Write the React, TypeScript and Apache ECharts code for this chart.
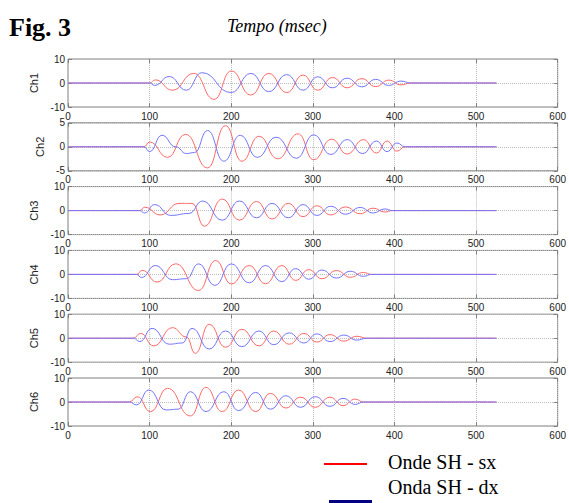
import React, { useEffect, useRef } from "react";
import * as echarts from "echarts";

// ---------- data ----------
const channels = ["Ch1", "Ch2", "Ch3", "Ch4", "Ch5", "Ch6"];
const yLimits = [10, 5, 10, 10, 10, 10];
const xMin = 0;
const xMax = 600;
const xStep = 100;
const seriesNames = ["Onde SH - sx", "Onda SH - dx"];

type P = [number, number];

const ch1Red: P[] = [[0, 0], [100, 0], [107, 1.3], [128, -3], [154, 4], [179, -6.8], [200, 5], [224, -5], [246, 4], [268, -4], [288, 3.3], [306, -3], [324, 2.3], [342, -2], [360, 1.8], [377, -1.5], [393, 1.2], [408, -0.8], [420, 0], [525, 0]];
const ch1Blue: P[] = [[0, 0], [100, 0], [106, -1], [124, 2.7], [145, -3], [164, 4.3], [200, -4], [224, 4], [246, -3.6], [268, 3.5], [288, -3], [306, 2.6], [324, -2], [342, 2], [360, -1.6], [377, 1.5], [393, -1], [408, 0.8], [420, 0], [525, 0]];

const ch2Red: P[] = [[0, 0], [93, 0], [100, 1], [122, -2.2], [144, 2.6], [171, -4.4], [193, 4.4], [213, -3], [234, 2.2], [257, -2.5], [282, 2.7], [301, -2.7], [323, 1.6], [342, -1.5], [362, 1.5], [378, -1.3], [391, 1.2], [403, -0.9], [413, 0], [525, 0]];
const ch2Blue: P[] = [[0, 0], [93, 0], [100, -1], [115, 2.4], [132, 0], [145, -1.4], [155, -1.2], [171, 3.4], [191, -3], [211, 2.4], [232, -2.2], [255, 2], [280, -2.4], [301, 2.5], [322, -1.6], [342, 1.5], [361, -1.4], [378, 1.2], [391, -1], [403, 0.8], [413, 0], [525, 0]];

const ch3Red: P[] = [[0, 0], [88, 0], [94, 1.4], [113, -1.8], [136, 3], [152, 3], [167, -6.5], [189, 4.8], [210, -4], [231, 3.8], [250, -3.5], [270, 3], [288, -2.5], [305, 2], [322, -1.8], [340, 1.5], [358, -1.3], [374, 1], [388, -0.6], [398, 0], [525, 0]];
const ch3Blue: P[] = [[0, 0], [88, 0], [94, -1], [106, 2.5], [126, -2], [148, -1.2], [165, 4], [189, -4], [210, 4], [231, -3], [250, 3], [270, -3], [288, 2.5], [305, -2], [322, 1.8], [340, -1.5], [358, 1.3], [374, -1], [388, 0.7], [398, 0], [525, 0]];

const ch4Red: P[] = [[0, 0], [84, 0], [91, 1.7], [109, -3.2], [132, 4.4], [160, -6.7], [181, 5.8], [200, -4], [222, 3.7], [242, -3.9], [262, 3.7], [279, -2.5], [295, 2], [311, -1.8], [329, 1.6], [346, -1.2], [362, 0.8], [372, 0], [525, 0]];
const ch4Blue: P[] = [[0, 0], [84, 0], [90, -1.3], [107, 3.7], [128, -2.2], [145, -1.8], [160, 4.4], [180, -4.6], [200, 4.4], [222, -3.5], [242, 3.7], [262, -3], [279, 2.4], [295, -2], [311, 1.8], [329, -1.5], [346, 1.3], [362, -0.8], [372, 0], [525, 0]];

const ch5Red: P[] = [[0, 0], [80, 0], [89, 2], [105, -3.2], [128, 4.4], [145, 0.5], [156, -6.3], [173, 5.8], [193, -3.8], [213, 3.7], [234, -3.2], [252, 3], [271, -2.5], [289, 2], [305, -1.6], [321, 1.5], [338, -1.2], [354, 0.8], [366, 0], [525, 0]];
const ch5Blue: P[] = [[0, 0], [80, 0], [88, -1.4], [103, 4.1], [124, -2.5], [140, -2], [152, 4.1], [173, -4.5], [193, 3], [213, -3.5], [234, 3], [252, -2.7], [271, 2.2], [289, -2], [305, 1.8], [321, -1.4], [338, 1.3], [354, -0.8], [366, 0], [525, 0]];

const ch6Red: P[] = [[0, 0], [75, 0], [85, 2.2], [101, -4], [122, 5.7], [150, -5.8], [169, 6.1], [189, -4], [209, 5], [230, -4], [248, 3.6], [267, -2.5], [285, 2], [303, -2.2], [321, 2], [337, -1.5], [352, 1.2], [362, 0], [525, 0]];
const ch6Blue: P[] = [[0, 0], [75, 0], [84, -1.2], [99, 5], [120, -3.3], [135, -3], [150, 4.3], [169, -4], [191, 4.3], [209, -3.6], [230, 4], [248, -3], [267, 2.6], [285, -2.2], [303, 2.2], [321, -1.8], [337, 1.5], [352, -1], [362, 0], [525, 0]];

const redData = [ch1Red, ch2Red, ch3Red, ch4Red, ch5Red, ch6Red];
const blueData = [ch1Blue, ch2Blue, ch3Blue, ch4Blue, ch5Blue, ch6Blue];

// ---------- styling ----------
const RED = "#ff6868";
const BLUE = "#7474ff";
const FRAME = "#808080";
const GRID_LEFT = 68;
const GRID_WIDTH = 491;
const GRID_TOP0 = 59;
const GRID_STEP = 63.8;
const GRID_H = 48;
const SANS = "Liberation Sans, Arial, sans-serif";
const SERIF = "Liberation Serif, Times New Roman, serif";

export default function App() {
  const ref = useRef<HTMLDivElement>(null);

  useEffect(() => {
    if (!ref.current) return;
    const chart = echarts.init(ref.current, undefined, { renderer: "svg" });

    const grid: any[] = [];
    const xAxis: any[] = [];
    const yAxis: any[] = [];
    const series: any[] = [];
    const tick = { inside: true, length: 4, lineStyle: { color: FRAME, width: 1 } };
    const dotted = { show: true, lineStyle: { type: "dotted", color: "#bcbcbc", width: 1 } };
    const noLine = { show: false, onZero: false };

    channels.forEach((name, i) => {
      const L = yLimits[i];
      grid.push({
        left: GRID_LEFT,
        width: GRID_WIDTH,
        top: GRID_TOP0 + i * GRID_STEP,
        height: GRID_H,
        show: true,
        borderColor: FRAME,
        borderWidth: 1,
        backgroundColor: "transparent",
      });
      xAxis.push({
        type: "value",
        gridIndex: i,
        min: xMin,
        max: xMax,
        interval: xStep,
        position: "bottom",
        axisLine: noLine,
        axisTick: tick,
        axisLabel: { fontSize: 10, color: "#222", margin: 4, fontFamily: SANS },
        splitLine: dotted,
      });
      xAxis.push({
        type: "value",
        gridIndex: i,
        min: xMin,
        max: xMax,
        interval: xStep,
        position: "top",
        axisLine: noLine,
        axisTick: tick,
        axisLabel: { show: false },
        splitLine: { show: false },
      });
      yAxis.push({
        type: "value",
        gridIndex: i,
        min: -L,
        max: L,
        interval: L,
        position: "left",
        axisLine: noLine,
        axisTick: tick,
        axisLabel: { fontSize: 10, color: "#222", margin: 3, fontFamily: SANS },
        splitLine: dotted,
        name,
        nameLocation: "middle",
        nameGap: 17,
        nameRotate: 90,
        nameTextStyle: { fontSize: 11, color: "#222", fontFamily: SANS },
      });
      yAxis.push({
        type: "value",
        gridIndex: i,
        min: -L,
        max: L,
        interval: L,
        position: "right",
        axisLine: noLine,
        axisTick: tick,
        axisLabel: { show: false },
        splitLine: { show: false },
      });
      series.push({
        name: seriesNames[0],
        type: "line",
        xAxisIndex: 2 * i,
        yAxisIndex: 2 * i,
        data: redData[i],
        showSymbol: false,
        smooth: 0.5,
        smoothMonotone: "x",
        lineStyle: { color: RED, width: 1 },
        itemStyle: { color: RED },
      });
      series.push({
        name: seriesNames[1],
        type: "line",
        xAxisIndex: 2 * i,
        yAxisIndex: 2 * i,
        data: blueData[i],
        showSymbol: false,
        smooth: 0.5,
        smoothMonotone: "x",
        lineStyle: { color: BLUE, width: 1 },
        itemStyle: { color: BLUE },
      });
    });

    chart.setOption({
      animation: false,
      backgroundColor: "#ffffff",
      grid,
      xAxis,
      yAxis,
      series,
      graphic: [
        {
          type: "text",
          left: 9,
          top: 14,
          style: { text: "Fig. 3", font: `bold 26px ${SERIF}`, fill: "#000" },
        },
        {
          type: "text",
          left: 227,
          top: 17,
          style: { text: "Tempo (msec)", font: `italic 18px ${SERIF}`, fill: "#000" },
        },
        {
          type: "line",
          shape: { x1: 324, y1: 464, x2: 367, y2: 464 },
          style: { stroke: "#ff0000", lineWidth: 2 },
        },
        {
          type: "text",
          left: 388,
          top: 452,
          style: { text: seriesNames[0], font: `20px ${SERIF}`, fill: "#000" },
        },
        {
          type: "line",
          shape: { x1: 329, y1: 501.5, x2: 372, y2: 501.5 },
          style: { stroke: "#000080", lineWidth: 3 },
        },
        {
          type: "text",
          left: 388,
          top: 477,
          style: { text: seriesNames[1], font: `20px ${SERIF}`, fill: "#000" },
        },
      ],
    });

    return () => chart.dispose();
  }, []);

  return (
    <div
      ref={ref}
      style={{ position: "absolute", left: 0, top: 0, width: 569, height: 503, background: "#fff" }}
    />
  );
}
